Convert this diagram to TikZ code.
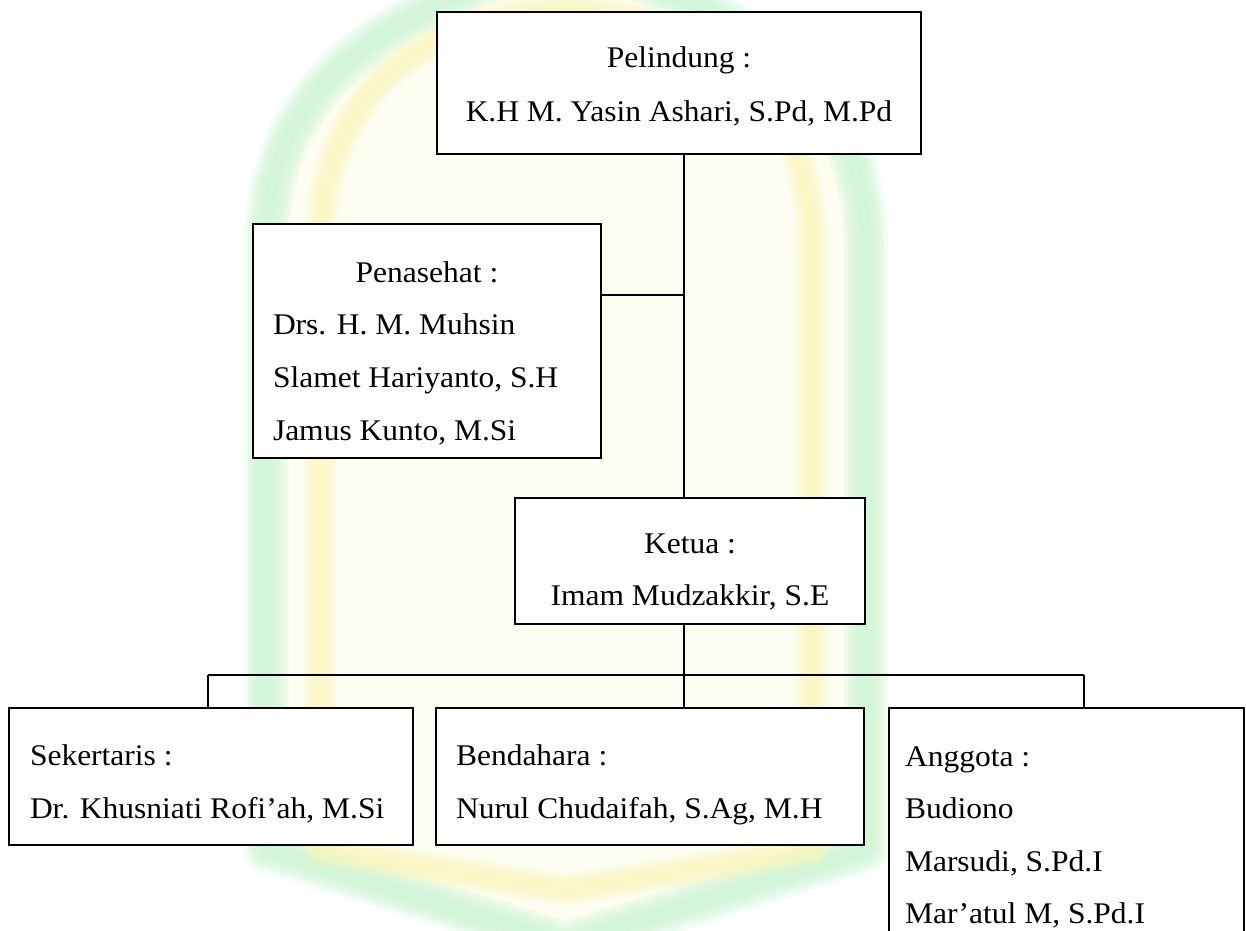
\documentclass[tikz,border=0pt]{standalone}
\usepackage{fontspec}
\setmainfont{Liberation Serif}[FakeStretch=1.05]
\definecolor{wmgreen}{RGB}{200,245,212}
\definecolor{wmyellow}{RGB}{250,246,185}
\definecolor{wmcream}{RGB}{253,253,242}
\newcommand\wmshape[1]{({250+#1},850) -- ({250+#1},250) .. controls ({250+#1},110) and ({330+#1},20) .. (566,{-60+#1}) .. controls ({802-#1},20) and ({882-#1},110) .. ({882-#1},250) -- ({882-#1},850) -- (566,{960-#1}) -- cycle}
\tikzset{
  box/.style={draw=black, fill=white, line width=1.6pt, rectangle, inner sep=0pt, outer sep=0pt, anchor=north west},
  txt/.style={inner sep=0pt, outer sep=0pt, font=\fontsize{30}{54}\selectfont, text=black},
  conn/.style={draw=black, line width=1.6pt},
  wm/.style={line join=round, draw opacity=0.25}
}
\begin{document}
\begin{tikzpicture}[x=1pt,y=-1pt]
\useasboundingbox[fill=white] (0,0) rectangle (1246,930);
\clip (0,0) rectangle (1246,930);
% faint watermark (soft layered strokes)
\fill[wmcream] \wmshape{0};
\foreach \w in {44,36,28,20,12} {\draw[wm, wmgreen, line width=\w pt] \wmshape{16};}
\foreach \w in {32,26,20,14,8} {\draw[wm, wmyellow, line width=\w pt] \wmshape{70};}
% boxes
\node[box, minimum width=484pt, minimum height=142pt] (pel) at (437,12) {};
\node[box, minimum width=348pt, minimum height=234pt] (pen) at (253,224) {};
\node[box, minimum width=350pt, minimum height=126pt] (ket) at (515,498) {};
\node[box, minimum width=404pt, minimum height=137pt] (sek) at (9,708) {};
\node[box, minimum width=428pt, minimum height=137pt] (ben) at (436,708) {};
\node[box, minimum width=355pt, minimum height=262pt] (ang) at (889,708) {};
% connectors
\coordinate (j1) at (684,295);
\coordinate (j2) at (684,675);
\coordinate (bl) at (208,675);
\coordinate (br) at (1084,675);
\draw[conn] (pel.south -| j1) -- (ket.north -| j1);
\draw[conn] (pen.east |- j1) -- (j1);
\draw[conn] (ket.south -| j2) -- (j2);
\draw[conn] (bl) -- (br);
\draw[conn] (bl) -- (sek.north -| bl);
\draw[conn] (j2) -- (ben.north -| j2);
\draw[conn] (br) -- (ang.north -| br);
% texts
\node[txt, anchor=base] (pel1) at (679,67) {Pelindung :};
\node[txt, anchor=base] (pel2) at (679,121) {K.H M. Yasin Ashari, S.Pd, M.Pd};
\node[txt, anchor=base] (pen1) at (427,282) {Penasehat :};
\node[txt, anchor=base west] (pen2) at (273,334) {Drs. H. M. Muhsin};
\node[txt, anchor=base west] (pen3) at (273,387) {Slamet Hariyanto, S.H};
\node[txt, anchor=base west] (pen4) at (273,440) {Jamus Kunto, M.Si};
\node[txt, anchor=base] (ket1) at (690,553) {Ketua :};
\node[txt, anchor=base] (ket2) at (690,605) {Imam Mudzakkir, S.E};
\node[txt, anchor=base west] (sek1) at (30,765) {Sekertaris :};
\node[txt, anchor=base west] (sek2) at (30,818) {Dr. Khusniati Rofi’ah, M.Si};
\node[txt, anchor=base west] (ben1) at (456,765) {Bendahara :};
\node[txt, anchor=base west] (ben2) at (456,818) {Nurul Chudaifah, S.Ag, M.H};
\node[txt, anchor=base west] (ang1) at (905,766) {Anggota :};
\node[txt, anchor=base west] (ang2) at (905,818) {Budiono};
\node[txt, anchor=base west] (ang3) at (905,871) {Marsudi, S.Pd.I};
\node[txt, anchor=base west] (ang4) at (905,923) {Mar’atul M, S.Pd.I};
\end{tikzpicture}
\end{document}
